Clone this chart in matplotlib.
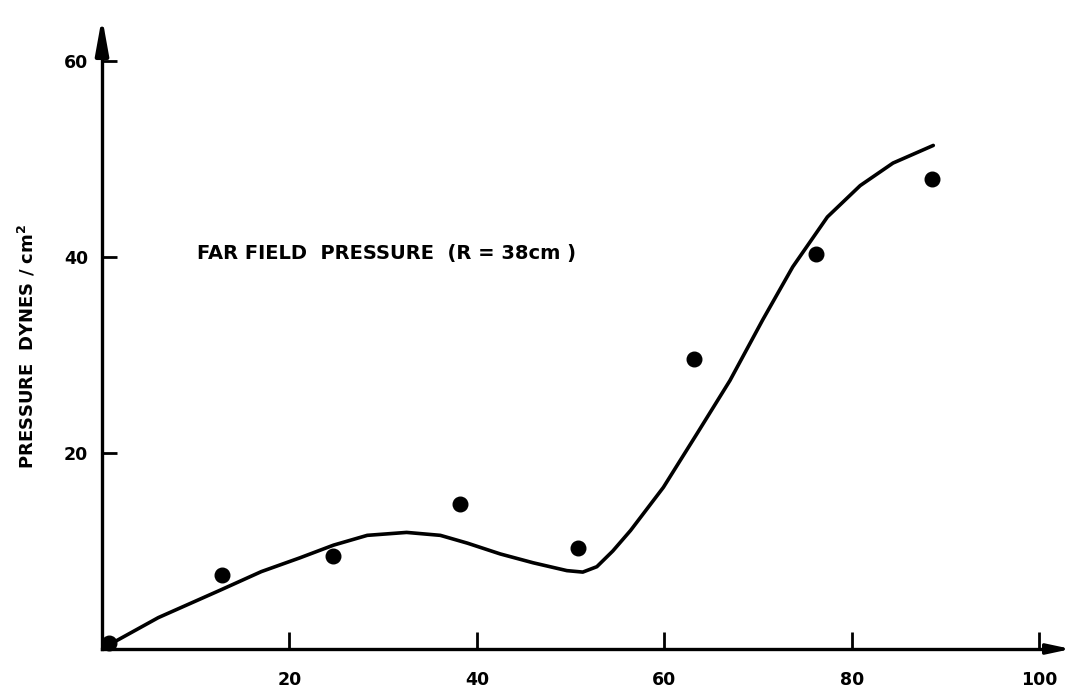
# Far field pressure - přepis starého grafu

import matplotlib.pyplot as plt
import numpy as np

# naměřené body
x_meas = [0.7, 12.8, 24.6, 38.2, 50.8, 63.2, 76.2, 88.6]
p_meas = [0.6, 7.6, 9.5, 14.8, 10.3, 29.6, 40.3, 48.0]

# vyhlazená křivka
x_curve = [0.7, 6.0, 12.6, 17.0, 21.1, 24.7, 28.3, 32.5, 36.1, 39.0, 42.5,
           46.0, 49.6, 51.3, 52.8, 54.5, 56.4, 59.9, 63.5, 67.0, 70.5, 73.7,
           77.4, 80.9, 84.4, 88.7]
p_curve = [0.4, 3.2, 6.0, 7.9, 9.3, 10.6, 11.6, 11.9, 11.6, 10.8, 9.7,
           8.8, 8.0, 7.85, 8.4, 10.0, 12.1, 16.5, 22.0, 27.4, 33.6, 39.0,
           44.1, 47.3, 49.6, 51.4]

xticks = [20, 40, 60, 80, 100]
yticks = [20, 40, 60]

fig = plt.figure(figsize=(10.74, 6.93), dpi=100)
ax = fig.add_axes([0.095, 0.0635, 0.904, 0.9175])
ax.set_xlim(0, 103.6)
ax.set_ylim(0, 64.9)

ax.plot(x_curve, p_curve, color="black", lw=2.6, solid_capstyle="round",
        solid_joinstyle="round")
ax.plot(x_meas, p_meas, "o", color="black", ms=10.5, clip_on=False)

# osy
for s in ["top", "right"]:
    ax.spines[s].set_visible(False)
for s in ["left", "bottom"]:
    ax.spines[s].set_linewidth(2.4)
ax.spines["left"].set_bounds(0, 61.5)
ax.spines["bottom"].set_bounds(0, 101.5)

ax.set_xticks(xticks)
ax.set_yticks(yticks)
ax.tick_params(direction="in", length=12, width=2, labelsize=12.5, pad=16)
ax.tick_params(axis="y", length=11, pad=10)
for lab in ax.get_xticklabels() + ax.get_yticklabels():
    lab.set_fontweight("bold")

# šipky na koncích os
ax.annotate("", xy=(0, 64.5), xytext=(0, 61.0), annotation_clip=False,
            arrowprops=dict(arrowstyle="-|>,head_length=2.1,head_width=0.38",
                            color="black", lw=3.0, shrinkA=0, shrinkB=0,
                            joinstyle="round"))
ax.annotate("", xy=(103.4, 0), xytext=(101.0, 0), annotation_clip=False,
            arrowprops=dict(arrowstyle="-|>,head_length=1.4,head_width=0.3",
                            color="black", lw=2.4, shrinkA=0, shrinkB=0))

ax.set_ylabel("PRESSURE  DYNES / cm$^\\mathbf{2}$", fontsize=13, fontweight="bold")
ax.yaxis.set_label_coords(-0.066, 0.476)

ax.text(10.1, 40.4, "FAR FIELD  PRESSURE  (R = 38cm )", fontsize=14,
        fontweight="bold", ha="left", va="center")

plt.savefig("out.png", dpi=100)
plt.close()
